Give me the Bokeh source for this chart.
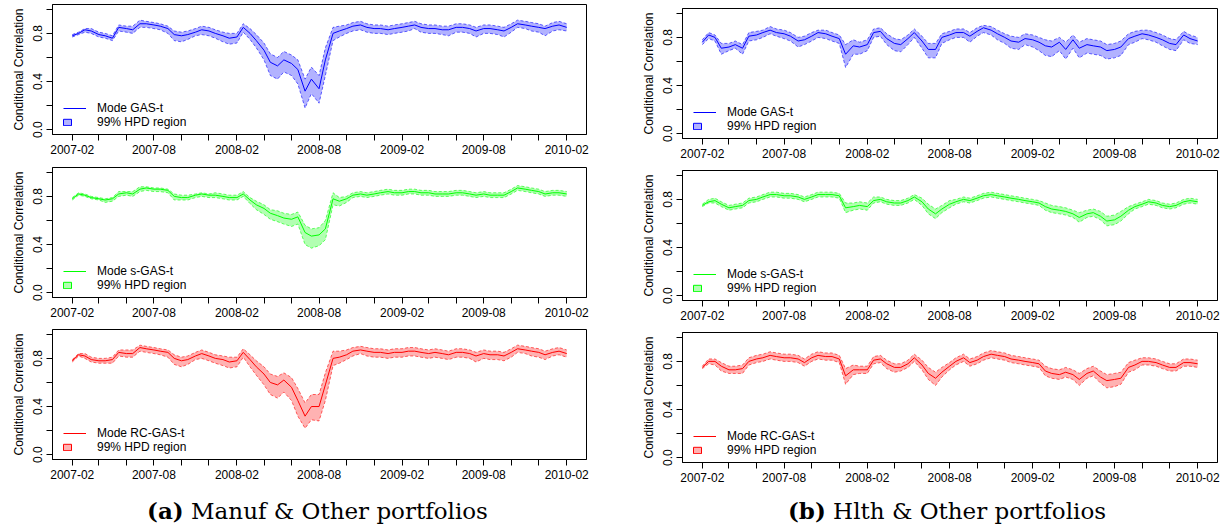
import datetime as dt
from bokeh.plotting import figure
from bokeh.models import (Range1d, FixedTicker, CustomJSTickFormatter, Legend,
                          LegendItem, Div, ColumnDataSource)
from bokeh.layouts import row, column
from bokeh.embed import file_html
from bokeh.resources import INLINE

# ---- dates: 1st and 15th of each month, 2007-02-01 .. 2010-02-01 ----
dates = []
for yy in (2007, 2008, 2009, 2010):
    for mm in range(1, 13):
        for dd in (1, 15):
            t = dt.datetime(yy, mm, dd)
            if dt.datetime(2007, 2, 1) <= t <= dt.datetime(2010, 2, 1):
                dates.append(t)

tick_months = []
for yy in (2007, 2008, 2009, 2010):
    for mm in range(2, 13, 2):
        t = dt.datetime(yy, mm, 1)
        if t <= dt.datetime(2010, 2, 1):
            tick_months.append(t)
y_ticks = [0.0, 0.2, 0.4, 0.6, 0.8, 1.0]

# ---- (a) Manuf & Other ----
a1_mode = [0.78,0.80,0.83,0.82,0.79,0.78,0.76,0.85,0.84,0.83,0.88,0.88,
           0.87,0.86,0.84,0.79,0.78,0.79,0.81,0.83,0.82,0.80,0.78,0.76,
           0.77,0.85,0.80,0.74,0.66,0.56,0.53,0.58,0.55,0.50,0.32,0.42,
           0.34,0.58,0.80,0.82,0.84,0.86,0.87,0.85,0.84,0.84,0.83,0.84,
           0.85,0.86,0.87,0.85,0.84,0.84,0.83,0.83,0.85,0.85,0.84,0.82,
           0.84,0.84,0.83,0.82,0.85,0.88,0.87,0.86,0.85,0.84,0.86,0.87,
           0.85]
a1_lo = [0.77,0.79,0.81,0.80,0.77,0.76,0.74,0.82,0.81,0.80,0.85,0.85,
         0.84,0.83,0.80,0.74,0.73,0.75,0.78,0.79,0.78,0.76,0.73,0.71,
         0.72,0.81,0.75,0.68,0.58,0.45,0.42,0.48,0.45,0.38,0.18,0.30,
         0.22,0.45,0.74,0.77,0.80,0.82,0.83,0.81,0.80,0.80,0.79,0.80,
         0.81,0.82,0.84,0.81,0.80,0.80,0.79,0.78,0.81,0.81,0.80,0.77,
         0.80,0.80,0.79,0.77,0.81,0.85,0.84,0.82,0.81,0.78,0.82,0.83,
         0.82]
a1_hi = [0.79,0.81,0.84,0.84,0.81,0.80,0.78,0.87,0.86,0.86,0.91,0.90,
         0.89,0.88,0.86,0.82,0.81,0.82,0.84,0.86,0.85,0.83,0.81,0.80,
         0.80,0.88,0.84,0.79,0.72,0.63,0.60,0.65,0.62,0.58,0.42,0.52,
         0.45,0.68,0.85,0.86,0.87,0.89,0.90,0.88,0.87,0.87,0.86,0.87,
         0.88,0.89,0.90,0.88,0.87,0.87,0.86,0.86,0.88,0.88,0.87,0.85,
         0.87,0.87,0.86,0.85,0.88,0.91,0.90,0.89,0.88,0.86,0.89,0.90,
         0.88]

a2_mode = [0.78,0.82,0.81,0.79,0.78,0.77,0.78,0.82,0.83,0.82,0.86,0.87,
           0.86,0.86,0.85,0.80,0.79,0.79,0.81,0.82,0.81,0.81,0.80,0.79,
           0.79,0.82,0.77,0.73,0.70,0.66,0.64,0.62,0.61,0.63,0.50,0.47,
           0.48,0.53,0.78,0.76,0.78,0.81,0.82,0.81,0.82,0.83,0.84,0.83,
           0.83,0.84,0.84,0.83,0.83,0.82,0.82,0.82,0.83,0.83,0.82,0.81,
           0.82,0.81,0.81,0.81,0.84,0.87,0.86,0.85,0.84,0.82,0.83,0.83,
           0.82]
a2_lo = [0.77,0.81,0.80,0.78,0.77,0.75,0.76,0.80,0.81,0.80,0.84,0.85,
         0.84,0.84,0.83,0.77,0.77,0.77,0.79,0.80,0.79,0.79,0.78,0.77,
         0.77,0.80,0.74,0.69,0.65,0.61,0.59,0.57,0.55,0.57,0.40,0.37,
         0.39,0.44,0.73,0.72,0.75,0.79,0.80,0.79,0.80,0.81,0.82,0.81,
         0.81,0.82,0.82,0.81,0.81,0.80,0.80,0.80,0.81,0.81,0.80,0.79,
         0.80,0.79,0.79,0.79,0.82,0.85,0.84,0.83,0.82,0.80,0.81,0.81,
         0.80]
a2_hi = [0.79,0.83,0.82,0.80,0.79,0.78,0.79,0.84,0.84,0.84,0.88,0.88,
         0.87,0.87,0.86,0.82,0.81,0.81,0.82,0.83,0.82,0.83,0.82,0.81,
         0.81,0.84,0.79,0.76,0.73,0.69,0.68,0.66,0.65,0.67,0.56,0.53,
         0.54,0.60,0.83,0.79,0.80,0.83,0.84,0.83,0.84,0.85,0.86,0.85,
         0.85,0.86,0.86,0.85,0.85,0.84,0.84,0.84,0.85,0.85,0.84,0.83,
         0.84,0.83,0.83,0.83,0.86,0.89,0.88,0.87,0.86,0.84,0.85,0.85,
         0.84]

a3_mode = [0.78,0.83,0.82,0.79,0.78,0.78,0.79,0.85,0.84,0.84,0.89,0.88,
           0.87,0.86,0.85,0.80,0.78,0.79,0.82,0.84,0.82,0.80,0.79,0.77,
           0.78,0.85,0.79,0.73,0.67,0.60,0.58,0.62,0.56,0.45,0.32,0.40,
           0.40,0.58,0.80,0.81,0.83,0.86,0.87,0.86,0.85,0.85,0.84,0.85,
           0.85,0.86,0.86,0.85,0.84,0.85,0.84,0.83,0.85,0.85,0.84,0.82,
           0.84,0.83,0.83,0.82,0.85,0.88,0.87,0.86,0.85,0.83,0.85,0.86,
           0.84]
a3_lo = [0.77,0.82,0.80,0.77,0.76,0.76,0.76,0.82,0.81,0.81,0.86,0.85,
         0.84,0.83,0.81,0.75,0.73,0.75,0.79,0.80,0.78,0.76,0.74,0.72,
         0.73,0.81,0.73,0.66,0.58,0.50,0.47,0.52,0.45,0.32,0.22,0.29,
         0.28,0.45,0.74,0.76,0.79,0.82,0.84,0.82,0.81,0.81,0.80,0.81,
         0.81,0.82,0.82,0.81,0.80,0.81,0.80,0.79,0.81,0.81,0.80,0.77,
         0.80,0.79,0.79,0.78,0.81,0.85,0.84,0.82,0.81,0.79,0.82,0.83,
         0.81]
a3_hi = [0.79,0.84,0.84,0.81,0.80,0.80,0.81,0.87,0.87,0.87,0.91,0.90,
         0.89,0.88,0.87,0.83,0.81,0.82,0.85,0.87,0.85,0.83,0.82,0.81,
         0.81,0.88,0.83,0.78,0.73,0.67,0.65,0.68,0.64,0.55,0.43,0.50,
         0.50,0.68,0.86,0.86,0.87,0.89,0.90,0.89,0.88,0.88,0.87,0.88,
         0.88,0.89,0.89,0.88,0.87,0.88,0.87,0.86,0.88,0.88,0.87,0.85,
         0.87,0.86,0.86,0.85,0.88,0.91,0.90,0.89,0.88,0.86,0.88,0.89,
         0.87]

# ---- (b) Hlth & Other ----
b1_mode = [0.76,0.82,0.80,0.71,0.72,0.74,0.71,0.81,0.82,0.84,0.86,0.84,
           0.83,0.81,0.77,0.78,0.81,0.84,0.83,0.81,0.79,0.66,0.73,0.72,
           0.74,0.84,0.85,0.79,0.75,0.74,0.79,0.84,0.77,0.70,0.70,0.80,
           0.82,0.84,0.84,0.81,0.85,0.88,0.86,0.83,0.80,0.77,0.76,0.79,
           0.78,0.76,0.73,0.72,0.76,0.70,0.78,0.71,0.74,0.73,0.72,0.69,
           0.70,0.72,0.79,0.81,0.83,0.82,0.80,0.78,0.75,0.74,0.82,0.79,
           0.77]
b1_lo = [0.74,0.79,0.77,0.66,0.69,0.71,0.66,0.77,0.78,0.80,0.83,0.81,
         0.79,0.77,0.72,0.74,0.77,0.80,0.79,0.77,0.75,0.55,0.66,0.66,
         0.69,0.80,0.81,0.74,0.69,0.68,0.74,0.80,0.71,0.63,0.63,0.75,
         0.78,0.80,0.80,0.76,0.81,0.84,0.82,0.78,0.75,0.71,0.70,0.74,
         0.72,0.69,0.65,0.64,0.69,0.62,0.71,0.63,0.67,0.66,0.65,0.62,
         0.63,0.65,0.74,0.76,0.79,0.78,0.76,0.73,0.70,0.69,0.78,0.75,
         0.74]
b1_hi = [0.78,0.84,0.82,0.75,0.75,0.77,0.74,0.84,0.85,0.86,0.89,0.87,
         0.86,0.84,0.80,0.81,0.84,0.86,0.86,0.84,0.82,0.74,0.78,0.76,
         0.78,0.87,0.88,0.83,0.79,0.78,0.82,0.87,0.81,0.75,0.75,0.83,
         0.85,0.87,0.87,0.84,0.88,0.90,0.89,0.86,0.83,0.81,0.80,0.83,
         0.82,0.80,0.78,0.77,0.80,0.76,0.82,0.76,0.79,0.78,0.77,0.74,
         0.75,0.77,0.83,0.85,0.86,0.86,0.84,0.82,0.79,0.78,0.85,0.82,
         0.80]

b2_mode = [0.75,0.78,0.79,0.76,0.73,0.74,0.75,0.79,0.80,0.82,0.84,0.84,
           0.83,0.83,0.82,0.80,0.82,0.84,0.84,0.84,0.83,0.73,0.74,0.75,
           0.74,0.79,0.80,0.78,0.77,0.77,0.79,0.82,0.78,0.72,0.68,0.72,
           0.76,0.78,0.80,0.79,0.81,0.83,0.84,0.83,0.82,0.81,0.80,0.79,
           0.78,0.77,0.74,0.72,0.71,0.70,0.68,0.65,0.68,0.69,0.66,0.62,
           0.63,0.66,0.71,0.74,0.76,0.78,0.77,0.75,0.74,0.75,0.78,0.79,
           0.78]
b2_lo = [0.74,0.77,0.77,0.74,0.71,0.72,0.73,0.77,0.78,0.80,0.82,0.82,
         0.81,0.81,0.80,0.78,0.80,0.82,0.82,0.82,0.81,0.69,0.71,0.72,
         0.71,0.77,0.78,0.76,0.75,0.75,0.77,0.80,0.75,0.68,0.64,0.69,
         0.73,0.76,0.78,0.77,0.79,0.81,0.82,0.81,0.80,0.79,0.78,0.77,
         0.76,0.75,0.71,0.69,0.68,0.67,0.65,0.61,0.65,0.66,0.63,0.58,
         0.59,0.62,0.68,0.72,0.74,0.76,0.75,0.73,0.72,0.73,0.76,0.77,
         0.76]
b2_hi = [0.76,0.80,0.81,0.78,0.75,0.76,0.77,0.81,0.82,0.84,0.86,0.86,
         0.85,0.85,0.84,0.82,0.84,0.86,0.86,0.86,0.85,0.77,0.77,0.78,
         0.77,0.82,0.82,0.80,0.79,0.79,0.81,0.84,0.81,0.76,0.72,0.75,
         0.79,0.80,0.82,0.81,0.83,0.85,0.86,0.85,0.84,0.83,0.82,0.81,
         0.80,0.79,0.77,0.75,0.74,0.73,0.71,0.69,0.71,0.72,0.70,0.66,
         0.67,0.70,0.74,0.76,0.78,0.80,0.79,0.77,0.76,0.77,0.80,0.81,
         0.80]

b3_mode = [0.75,0.80,0.80,0.76,0.73,0.73,0.74,0.80,0.82,0.83,0.85,0.84,
           0.83,0.83,0.82,0.79,0.83,0.85,0.84,0.84,0.82,0.68,0.73,0.73,
           0.73,0.81,0.82,0.78,0.75,0.75,0.78,0.83,0.77,0.70,0.66,0.71,
           0.76,0.80,0.83,0.79,0.81,0.84,0.86,0.85,0.84,0.82,0.81,0.80,
           0.79,0.78,0.72,0.70,0.69,0.71,0.69,0.65,0.70,0.72,0.67,0.64,
           0.65,0.66,0.75,0.77,0.80,0.80,0.79,0.77,0.75,0.75,0.79,0.79,
           0.78]
b3_lo = [0.74,0.78,0.77,0.72,0.70,0.70,0.70,0.77,0.79,0.80,0.82,0.81,
         0.80,0.80,0.79,0.76,0.80,0.82,0.81,0.81,0.79,0.61,0.69,0.70,
         0.70,0.78,0.79,0.74,0.71,0.72,0.75,0.80,0.73,0.65,0.60,0.67,
         0.73,0.77,0.80,0.76,0.78,0.81,0.83,0.82,0.81,0.79,0.78,0.77,
         0.76,0.75,0.68,0.66,0.65,0.67,0.65,0.60,0.66,0.68,0.62,0.58,
         0.59,0.61,0.71,0.73,0.77,0.77,0.76,0.74,0.72,0.72,0.76,0.76,
         0.75]
b3_hi = [0.76,0.82,0.82,0.79,0.76,0.76,0.77,0.83,0.85,0.86,0.88,0.87,
         0.86,0.86,0.85,0.82,0.86,0.88,0.87,0.87,0.85,0.74,0.77,0.76,
         0.76,0.84,0.85,0.81,0.78,0.78,0.81,0.86,0.81,0.75,0.71,0.75,
         0.79,0.83,0.86,0.82,0.84,0.87,0.89,0.88,0.87,0.85,0.84,0.83,
         0.82,0.81,0.76,0.74,0.73,0.75,0.73,0.70,0.74,0.76,0.72,0.69,
         0.70,0.71,0.79,0.81,0.83,0.83,0.82,0.80,0.78,0.78,0.82,0.82,
         0.81]

series_labels = ["Mode GAS-t", "Mode s-GAS-t", "Mode RC-GAS-t"]
series_colors = ["#0000FF", "#00FF00", "#FF0000"]
band_label = "99% HPD region"
y_title = "Conditional Correlation"
captions = ["Manuf &amp; Other portfolios", "Hlth &amp; Other portfolios"]
caption_tags = ["(a)", "(b)"]

FONT = "Liberation Sans"
span = dates[-1] - dates[0]
x_start = dates[0] - span * 0.04
x_end = dates[-1] + span * 0.04
tick_ms = [(t - dt.datetime(1970, 1, 1)).total_seconds() * 1000.0 for t in tick_months]

X_FMT = """
const d = new Date(tick);
const m = d.getUTCMonth() + 1;
if (m == 2 || m == 8) { return d.getUTCFullYear() + "-" + (m < 10 ? "0" + m : "" + m); }
return "";
"""
Y_FMT = """
if (Math.abs(tick) < 1e-9 || Math.abs(tick - 0.4) < 1e-9 || Math.abs(tick - 0.8) < 1e-9) { return tick.toFixed(1); }
return "";
"""


def panel(mode, lo, hi, color, label, width, height, bl, br, bt, bb):
    p = figure(width=width, height=height, x_axis_type="datetime",
               output_backend="svg", toolbar_location=None,
               x_range=Range1d(x_start, x_end), y_range=Range1d(-0.04, 1.04),
               min_border_left=bl, min_border_right=br,
               min_border_top=bt, min_border_bottom=bb)
    src = ColumnDataSource(dict(x=dates, mode=mode, lo=lo, hi=hi))
    p.varea(x="x", y1="lo", y2="hi", source=src, fill_color=color, fill_alpha=0.3)
    p.line("x", "lo", source=src, line_color=color, line_width=1, line_dash="3 2", line_alpha=0.6)
    p.line("x", "hi", source=src, line_color=color, line_width=1, line_dash="3 2", line_alpha=0.6)
    ml = p.line("x", "mode", source=src, line_color=color, line_width=1)
    # hidden renderer that only serves as the legend swatch of the HPD band
    box = p.quad(left="x", right="x", top="hi", bottom="lo", source=src,
                 fill_color=color, fill_alpha=0.3, line_color=color,
                 line_width=1, visible=False)

    common = dict(label_text_font=FONT, label_text_font_size="12px",
                  label_text_color="black", border_line_alpha=0,
                  background_fill_alpha=0, padding=0, margin=0, spacing=0,
                  label_height=12, label_text_baseline="middle",
                  inactive_fill_alpha=0)
    leg1 = Legend(items=[LegendItem(label=label, renderers=[ml])],
                  location=(11, 19), glyph_width=23, glyph_height=12,
                  label_standoff=11, **common)
    leg2 = Legend(items=[LegendItem(label=band_label, renderers=[box])],
                  location=(10, 5), glyph_width=10, glyph_height=8,
                  label_standoff=25, **common)
    p.add_layout(leg1)
    p.add_layout(leg2)

    p.grid.visible = False
    p.outline_line_color = "black"
    p.outline_line_alpha = 1
    p.outline_line_width = 1

    xa = p.xaxis[0]
    xa.ticker = FixedTicker(ticks=tick_ms)
    xa.formatter = CustomJSTickFormatter(code=X_FMT)
    ya = p.yaxis[0]
    ya.ticker = FixedTicker(ticks=y_ticks)
    ya.formatter = CustomJSTickFormatter(code=Y_FMT)
    ya.major_label_orientation = "vertical"
    ya.axis_label = y_title
    for ax in (xa, ya):
        ax.axis_line_color = "black"
        ax.major_tick_line_color = "black"
        ax.major_tick_out = 6
        ax.major_tick_in = 0
        ax.minor_tick_line_color = None
        ax.major_label_text_font = FONT
        ax.major_label_text_font_size = "12px"
        ax.major_label_text_color = "black"
    xa.major_label_standoff = 4
    ya.major_label_standoff = 4
    ya.axis_label_text_font = FONT
    ya.axis_label_text_font_size = "12px"
    ya.axis_label_text_font_style = "normal"
    ya.axis_label_text_color = "black"
    ya.axis_label_standoff = 5
    return p


def caption_div(tag, text, width, height, shift, line_h):
    html = ('<div style="width:%dpx;height:%dpx;box-sizing:border-box;'
            'padding-left:%dpx;text-align:center;font-family:\'DejaVu Serif\';'
            'font-size:23px;line-height:%dpx;color:black;white-space:nowrap;">'
            '<b>%s</b> %s</div>') % (width, height, shift, line_h, tag, text)
    return Div(text=html, width=width, height=height, margin=0)


data_a = [(a1_mode, a1_lo, a1_hi), (a2_mode, a2_lo, a2_hi), (a3_mode, a3_lo, a3_hi)]
data_b = [(b1_mode, b1_lo, b1_hi), (b2_mode, b2_lo, b2_hi), (b3_mode, b3_lo, b3_hi)]

left_geo = [(163, 4, 29), (162, 4, 28), (161, 4, 27)]
right_geo = [(166, 8, 28), (162, 4, 28), (161, 4, 27)]

left_figs = []
for i, (m, l, h) in enumerate(data_a):
    hh, bt, bb = left_geo[i]
    left_figs.append(panel(m, l, h, series_colors[i], series_labels[i], 611, hh, 52, 25, bt, bb))
right_figs = []
for i, (m, l, h) in enumerate(data_b):
    hh, bt, bb = right_geo[i]
    right_figs.append(panel(m, l, h, series_colors[i], series_labels[i], 612, hh, 71, 6, bt, bb))

cap_a = caption_div(caption_tags[0], captions[0], 611, 43, 24, 50)
cap_b = caption_div(caption_tags[1], captions[1], 612, 40, 60, 44)

layout = row(column(*left_figs, cap_a), column(*right_figs, cap_b))

open("out.html", "w").write(file_html(layout, INLINE))
